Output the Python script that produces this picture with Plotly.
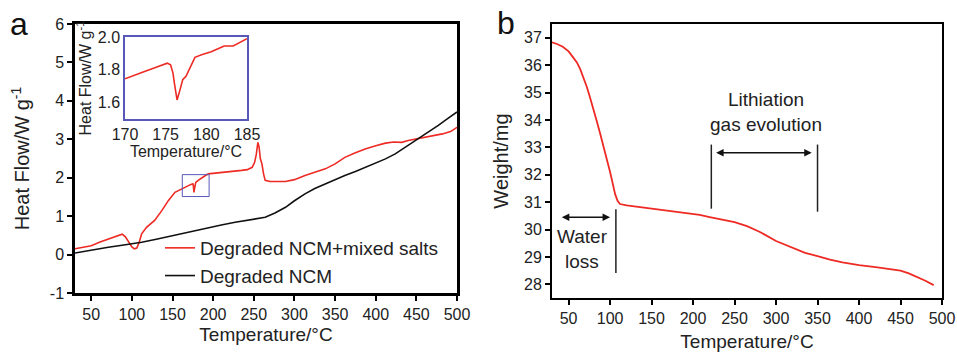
import plotly.graph_objects as go

# ---------------- data ----------------
# Panel a: DSC heat flow
a_red_x = [30, 40, 50, 60, 71, 80, 85, 88, 92, 97, 100, 103, 106, 109, 112, 118, 128, 137, 145, 153, 161, 168, 172, 175,
           175.6, 176, 176.4, 176.8, 177.5, 178.6, 182, 185, 190, 194, 205, 215, 225, 235, 242, 248, 251, 253, 255,
           256.5, 258, 260, 262, 264, 270, 280, 289, 300, 313, 325, 338, 350, 362, 375, 387, 400, 412, 422, 432, 440,
           448, 457, 470, 482, 492, 500]
a_red_y = [0.15, 0.20, 0.23, 0.32, 0.41, 0.47, 0.52, 0.53, 0.46, 0.30, 0.20, 0.15, 0.17, 0.32, 0.54, 0.71, 0.89, 1.15,
           1.41, 1.62, 1.71, 1.78, 1.82, 1.84, 1.80, 1.70, 1.62, 1.68, 1.76, 1.88, 1.94, 1.99, 2.05, 2.10, 2.12, 2.14,
           2.16, 2.19, 2.21, 2.27, 2.40, 2.60, 2.92, 2.80, 2.50, 2.36, 2.10, 1.93, 1.90, 1.89, 1.90, 1.95, 2.06, 2.14,
           2.23, 2.36, 2.53, 2.65, 2.75, 2.83, 2.90, 2.93, 2.92, 2.97, 3.00, 3.05, 3.10, 3.14, 3.20, 3.31]
a_blk_x = [30, 50, 71, 90, 112, 130, 145, 155, 165.5, 180, 194, 210, 227, 240, 252, 264, 276, 289, 300, 313, 325, 338,
           350, 362, 375, 387, 400, 412, 424, 436, 445, 453, 465, 477, 488, 500]
a_blk_y = [0.04, 0.12, 0.19, 0.25, 0.32, 0.40, 0.47, 0.53, 0.58, 0.64, 0.71, 0.77, 0.84, 0.89, 0.93, 0.97, 1.08, 1.23,
           1.40, 1.58, 1.72, 1.84, 1.95, 2.06, 2.16, 2.27, 2.37, 2.49, 2.62, 2.79, 2.90, 3.01, 3.18, 3.36, 3.53, 3.71]

# inset of panel a (170-185 C)
ins_x = [170, 171, 172.4, 173.5, 174.5, 175.2, 175.6, 175.9, 176.1, 176.4, 176.7, 177.1, 177.5, 177.9, 178.3, 178.6,
         179.5, 180.6, 181.5, 182.2, 183.3, 184, 185]
ins_y = [1.745, 1.765, 1.79, 1.81, 1.83, 1.84, 1.83, 1.78, 1.71, 1.616, 1.667, 1.74, 1.76, 1.80, 1.85, 1.876, 1.893,
         1.91, 1.93, 1.945, 1.945, 1.965, 1.99]

# Panel b: TGA weight
b_x = [30, 36, 43, 50, 55, 60, 64, 68, 72, 76, 80, 84, 88, 92, 96, 100, 103, 106, 109, 112, 120, 135, 150, 165, 180,
       195, 208, 220, 235, 250, 265, 280, 300, 320, 335, 350, 365, 380, 400, 420, 440, 450, 460, 470, 480, 490]
b_y = [36.83, 36.77, 36.67, 36.5, 36.3, 36.1, 35.85, 35.55, 35.2, 34.8, 34.4, 33.95, 33.5, 33.05, 32.6, 32.1, 31.7,
       31.3, 31.05, 30.93, 30.88, 30.82, 30.76, 30.72, 30.66, 30.58, 30.53, 30.45, 30.37, 30.27, 30.12, 29.92, 29.58,
       29.32, 29.15, 29.03, 28.9, 28.8, 28.7, 28.63, 28.56, 28.5, 28.4, 28.27, 28.13, 27.97]

x_ticks = [50, 100, 150, 200, 250, 300, 350, 400, 450, 500]
a_yticks = [-1, 0, 1, 2, 3, 4, 5, 6]
a_yticktext = ["-1", "0", "1", "2", "3", "4", "5", "6"]
b_yticks = [28, 29, 30, 31, 32, 33, 34, 35, 36, 37]
ins_xticks = [170, 175, 180, 185]
ins_yticks = [1.6, 1.8, 2.0]

series_names = ["Degraded NCM+mixed salts", "Degraded NCM"]

# ---------------- figure ----------------
RED = "#ee2a24"
BLK = "#111111"
BLUE = "#5858b8"
FONT = "Liberation Sans, Arial, sans-serif"
W, H = 957, 352

def px(x):
    return x / W

def py(y):
    return 1 - y / H

fig = go.Figure()
fig.add_trace(go.Scatter(x=a_red_x, y=a_red_y, mode="lines", line=dict(color=RED, width=1.6),
                         name=series_names[0], xaxis="x", yaxis="y"))
fig.add_trace(go.Scatter(x=a_blk_x, y=a_blk_y, mode="lines", line=dict(color=BLK, width=1.6),
                         name=series_names[1], xaxis="x", yaxis="y"))
fig.add_trace(go.Scatter(x=ins_x, y=ins_y, mode="lines", line=dict(color=RED, width=1.6),
                         showlegend=False, xaxis="x3", yaxis="y3"))
fig.add_trace(go.Scatter(x=b_x, y=b_y, mode="lines", line=dict(color=RED, width=1.8),
                         showlegend=False, xaxis="x2", yaxis="y2"))

axis_common = dict(showgrid=False, zeroline=False, showline=True, linecolor="black", mirror=True,
                   ticks="outside", ticklen=5, tickwidth=1.5, tickcolor="black", automargin=False,
                   tickfont=dict(family=FONT, size=16, color="#222"))

fig.update_layout(
    width=W, height=H,
    margin=dict(l=0, r=0, t=0, b=0, autoexpand=False),
    paper_bgcolor="white", plot_bgcolor="white",
    font=dict(family=FONT, color="#222"),
    showlegend=True,
    legend=dict(x=px(160), y=py(229), xanchor="left", yanchor="top",
                bgcolor="rgba(0,0,0,0)", font=dict(family=FONT, size=19, color="#222"),
                tracegroupgap=0),
    xaxis=dict(domain=[px(75), px(457)], range=[30, 500], tickvals=x_ticks, anchor="y",
               linewidth=2.5,
               title=dict(text="Temperature/°C", font=dict(family=FONT, size=19, color="#222"), standoff=6),
               **axis_common),
    yaxis=dict(domain=[py(293), py(24)], range=[-1, 6], tickvals=a_yticks, ticktext=a_yticktext, anchor="x",
               linewidth=2.5,
               title=dict(text="Heat Flow/W g<sup>-1</sup>", font=dict(family=FONT, size=20, color="#222"),
                          standoff=15),
               **axis_common),
    xaxis2=dict(domain=[px(552), px(942)], range=[30, 500], tickvals=x_ticks, anchor="y2",
                linewidth=2,
                title=dict(text="Temperature/°C", font=dict(family=FONT, size=19, color="#222"), standoff=10),
                **axis_common),
    yaxis2=dict(domain=[py(298), py(24)], range=[27.5, 37.5], tickvals=b_yticks, anchor="x2",
                linewidth=2,
                title=dict(text="Weight/mg", font=dict(family=FONT, size=20, color="#222"), standoff=10),
                **axis_common),
    xaxis3=dict(domain=[px(125), px(247)], range=[170, 185], tickvals=ins_xticks, anchor="y3",
                showgrid=False, zeroline=False, showline=True, linecolor=BLUE, linewidth=1.5, mirror=True,
                ticks="", automargin=False, tickfont=dict(family=FONT, size=16, color="#222"),
                title=dict(text="Temperature/°C", font=dict(family=FONT, size=16, color="#222"), standoff=0)),
    yaxis3=dict(domain=[py(119), py(37)], range=[1.5, 2.0], tickvals=ins_yticks, tickformat=".1f", anchor="x3",
                showgrid=False, zeroline=False, showline=True, linecolor=BLUE, linewidth=1.5, mirror=True,
                ticks="", automargin=False, tickfont=dict(family=FONT, size=16, color="#222"),
                title=dict(text="Heat Flow/W g<sup>-1</sup>", font=dict(family=FONT, size=16, color="#222"),
                           standoff=2)),
)

# small rectangle marking the inset region on panel a
fig.add_shape(type="rect", xref="x", yref="y", x0=162, x1=195, y0=1.51, y1=2.08,
              line=dict(color=BLUE, width=1))

# panel b annotations: brackets and arrows
for xv, y0, y1 in [(107, 28.41, 30.74), (222, 30.76, 33.1), (350, 30.65, 33.1)]:
    fig.add_shape(type="line", xref="x2", yref="y2", x0=xv, x1=xv, y0=y0, y1=y1,
                  line=dict(color="#222", width=1.5))

for (xa, xb, yv) in [(40, 100, 30.45), (226, 343, 32.8)]:
    fig.add_annotation(xref="x2", yref="y2", axref="x2", ayref="y2", x=xb, y=yv, ax=xa, ay=yv,
                       text="", showarrow=True, arrowhead=2, arrowside="end+start", arrowsize=1,
                       arrowwidth=1.5, arrowcolor="#111")

fig.add_annotation(xref="x2", yref="y2", x=67, y=29.27, text="Water<br>loss", showarrow=False,
                   font=dict(family=FONT, size=19, color="#222"), align="center")
fig.add_annotation(xref="x2", yref="y2", x=288, y=34.27, text="Lithiation<br>gas evolution", showarrow=False,
                   font=dict(family=FONT, size=19, color="#222"), align="center")

# panel letters
fig.add_annotation(xref="paper", yref="paper", x=px(19), y=py(24), text="a", showarrow=False,
                   font=dict(family=FONT, size=32, color="#111"), xanchor="center", yanchor="middle")
fig.add_annotation(xref="paper", yref="paper", x=px(506), y=py(23), text="b", showarrow=False,
                   font=dict(family=FONT, size=32, color="#111"), xanchor="center", yanchor="middle")

fig.write_html("out.html")
